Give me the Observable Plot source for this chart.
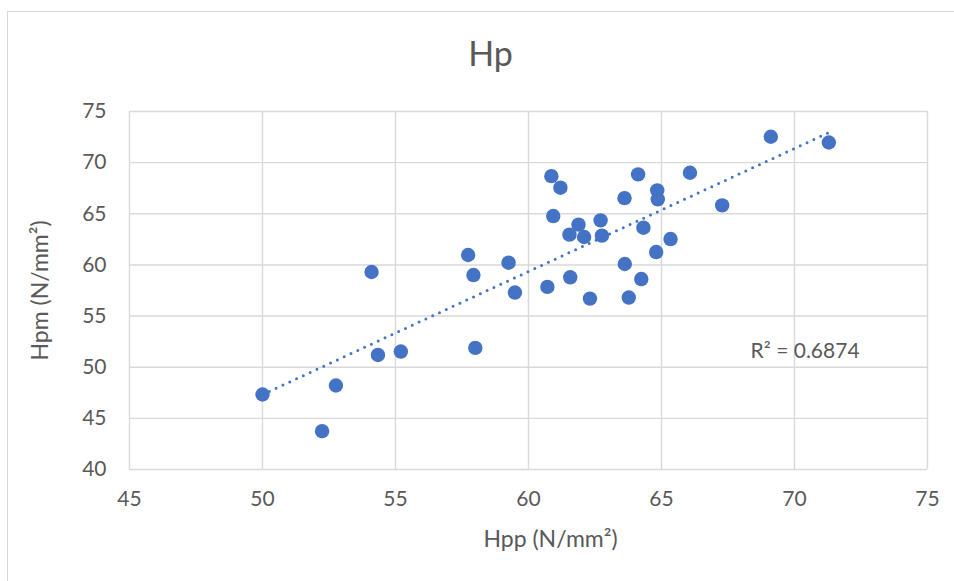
<!DOCTYPE html>
<html>
<head>
<meta charset="utf-8">
<script src="https://cdn.jsdelivr.net/npm/d3@7"></script>
<script src="https://cdn.jsdelivr.net/npm/@observablehq/plot@0.6"></script>
<style>
  html, body { margin: 0; padding: 0; background: #fff; overflow: hidden; width: 954px; height: 581px; }
  #wrap { position: relative; width: 954px; height: 581px; }
  #border { position: absolute; left: 7px; top: 11px; width: 1100px; height: 1100px; border: 1.5px solid #d9d9d9; box-sizing: border-box; }
  #chart { position: absolute; left: 0; top: 0; }
</style>
</head>
<body>
<div id="wrap"><div id="border"></div><div id="chart"></div></div>
<script>
const title = "Hp";
const xLabel = "Hpp (N/mm²)";
const yLabel = "Hpm (N/mm²)";
const r2Label = "R² = 0.6874";
const xTicks = [45, 50, 55, 60, 65, 70, 75];
const yTicks = [40, 45, 50, 55, 60, 65, 70, 75];

const hpp = [50.0, 52.24, 52.76, 54.1, 54.34, 55.2, 57.73, 57.93, 58.0, 59.25, 59.49, 60.71,
  60.86, 60.93, 61.2, 61.54, 61.57, 61.88, 62.09, 62.31, 62.71, 62.76, 63.61, 63.62,
  63.77, 64.12, 64.24, 64.32, 64.8, 64.84, 64.86, 65.34, 66.07, 67.28, 69.11, 71.29];
const hpm = [47.33, 43.75, 48.21, 59.31, 51.2, 51.53, 60.97, 59.01, 51.89, 60.22, 57.3, 57.85,
  68.68, 64.78, 67.55, 62.96, 58.79, 63.94, 62.73, 56.71, 64.36, 62.86, 66.53, 60.09,
  56.81, 68.85, 58.62, 63.64, 61.26, 67.29, 66.41, 62.53, 69.01, 65.82, 72.53, 71.97];

const data = hpp.map((x, i) => ({x, y: hpm[i]}));
const font = "Lato, 'Open Sans', sans-serif";
const grey = "#595959";
const blue = "#4472C4";

const chart = Plot.plot({
  width: 954,
  height: 581,
  marginLeft: 129,
  marginRight: 27,
  marginTop: 111,
  marginBottom: 112,
  style: {fontFamily: font, background: "transparent", overflow: "visible"},
  x: {domain: [45, 75], ticks: xTicks},
  y: {domain: [40, 75], ticks: yTicks},
  marks: [
    Plot.gridX(xTicks, {stroke: "#d9d9d9", strokeOpacity: 1, strokeWidth: 1.4}),
    Plot.gridY(yTicks, {stroke: "#d9d9d9", strokeOpacity: 1, strokeWidth: 1.4}),
    Plot.axisX(xTicks, {tickSize: 0, tickPadding: 22, fontSize: 21, fill: grey, label: null}),
    Plot.axisY(yTicks, {tickSize: 0, tickPadding: 23, fontSize: 21, fill: grey, label: null}),
    Plot.dot(data, {x: "x", y: "y", r: 7.2, fill: blue, stroke: "none"}),
    Plot.linearRegressionY(data, {x: "x", y: "y", ci: 0, stroke: blue, strokeWidth: 3,
      strokeDasharray: "0 7.5", strokeLinecap: "round"}),
    Plot.text([title], {frameAnchor: "top", dy: -56, dx: -38, fontSize: 34, fill: grey, lineAnchor: "middle"}),
    Plot.text([xLabel], {frameAnchor: "bottom", textAnchor: "middle", dy: 70, dx: 22, fontSize: 23, fill: grey, lineAnchor: "middle"}),
    Plot.text([yLabel], {frameAnchor: "left", textAnchor: "middle", dx: -89, rotate: -90, fontSize: 23, fill: grey, lineAnchor: "middle"}),
    Plot.text([r2Label], {x: [68.35], y: [51.6], textAnchor: "start", fontSize: 21, fill: grey, lineAnchor: "middle"})
  ]
});
document.getElementById("chart").appendChild(chart);
</script>
</body>
</html>
